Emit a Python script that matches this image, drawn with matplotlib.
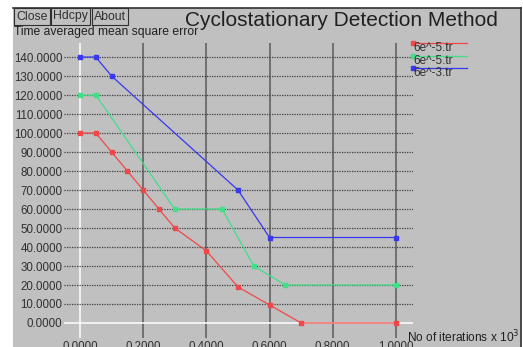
import matplotlib
matplotlib.use("Agg")
import matplotlib.pyplot as plt
from matplotlib.patches import Rectangle

# series (x in thousands of iterations)
red_x = [0.0, 0.05, 0.1, 0.15, 0.2, 0.25, 0.3, 0.4, 0.5, 0.6, 0.7, 1.0]
red_y = [100, 100, 90, 80, 70, 60, 50, 38, 19, 9.5, 0, 0]
green_x = [0.0, 0.05, 0.3, 0.45, 0.55, 0.65, 1.0]
green_y = [120, 120, 60, 60, 30, 20, 20]
blue_x = [0.0, 0.05, 0.1, 0.5, 0.6, 1.0]
blue_y = [140, 140, 130, 70, 45, 45]
labels = ["6e^-5.tr", "6e^-5.tr", "6e^-3.tr"]

xticks = [0.0, 0.2, 0.4, 0.6, 0.8, 1.0]
yticks = list(range(0, 150, 10))

W, H = 523, 347
GRAY = "#c0c0c0"
font = ["Liberation Sans", "DejaVu Sans"]
plt.rcParams["font.family"] = font

fig = plt.figure(figsize=(W / 100, H / 100), dpi=100)
fig.patch.set_facecolor("white")

def fx(px):
    return px / W

def fy(py):
    return 1 - py / H

# gray panel with dark top/right border
fig.patches.append(Rectangle((fx(13), 0), fx(521) - fx(13), fy(8), transform=fig.transFigure,
                             facecolor=GRAY, edgecolor="none", zorder=-5))
fig.add_artist(plt.Line2D([fx(13), fx(521)], [fy(8), fy(8)], color="#303030", lw=1.2,
                          transform=fig.transFigure))
fig.add_artist(plt.Line2D([fx(521), fx(521)], [fy(8), 0], color="#303030", lw=1.2,
                          transform=fig.transFigure))

# the plotting area
ax = fig.add_axes([fx(64), fy(338), fx(413) - fx(64), fy(43) - fy(338)])
ax.set_facecolor("none")
for s in ax.spines.values():
    s.set_visible(False)
ax.set_xlim(-0.0506, 1.054)
ax.set_ylim(-7.9, 147.4)

for t in xticks:
    ax.axvline(t, color="white" if t == 0 else "#5a5a5a", lw=1.1, zorder=1)
for t in yticks:
    if t == 0:
        ax.axhline(t, color="white", lw=1.1, zorder=1)
    else:
        ax.axhline(t, color="#404040", lw=0.9, ls=(0, (1, 1)), zorder=1)

ax.set_xticks(xticks)
ax.set_xticklabels(["%.4f" % v for v in xticks])
ax.set_yticks(yticks)
ax.set_yticklabels(["%.4f" % v for v in yticks])
ax.tick_params(length=0, labelsize=8.3, labelcolor="#303030")
ax.tick_params(axis="x", pad=2)
ax.tick_params(axis="y", pad=1)

series = [(red_x, red_y, "#f04848"), (green_x, green_y, "#40e088"), (blue_x, blue_y, "#3838f0")]
for xs, ys, c in series:
    ax.plot(xs, ys, color=c, lw=0.9, marker="s", ms=2.2, mec=c, mfc=c, zorder=3, clip_on=False)

# legend at the right
for i, ((xs, ys, c), lab) in enumerate(zip(series, labels)):
    py = 43 + 12.5 * i
    fig.add_artist(plt.Line2D([fx(412), fx(467)], [fy(py), fy(py)], color=c, lw=0.9,
                              transform=fig.transFigure))
    fig.add_artist(plt.Line2D([fx(413)], [fy(py)], color=c, marker="s", ms=2.2,
                              transform=fig.transFigure))
    fig.text(fx(413), fy(py + 5), lab, fontsize=8.5, color="#303030", va="center", ha="left")

# title, axis labels, buttons
fig.text(fx(341), fy(21), "Cyclostationary Detection Method", fontsize=15,
         color="#202020", ha="center", va="center")
fig.text(fx(14), fy(32), "Time averaged mean square error", fontsize=8.7,
         color="#202020", ha="left", va="center")
fig.text(fx(407), fy(337), "No of iterations x 10$^3$", fontsize=8.6,
         color="#202020", ha="left", va="center")

x0 = 16
for b in ["Close", "Hdcpy", "About"]:
    t = fig.text(fx(x0), fy(16.5), b, fontsize=8.8, color="#303030", ha="left", va="center",
                 bbox=dict(boxstyle="square,pad=0.18", fc=GRAY, ec="#303030", lw=0.8))
    fig.canvas.draw()
    bb = t.get_window_extent()
    x0 = bb.x1 + 6

fig.savefig("out.png", dpi=100, facecolor=fig.get_facecolor())
